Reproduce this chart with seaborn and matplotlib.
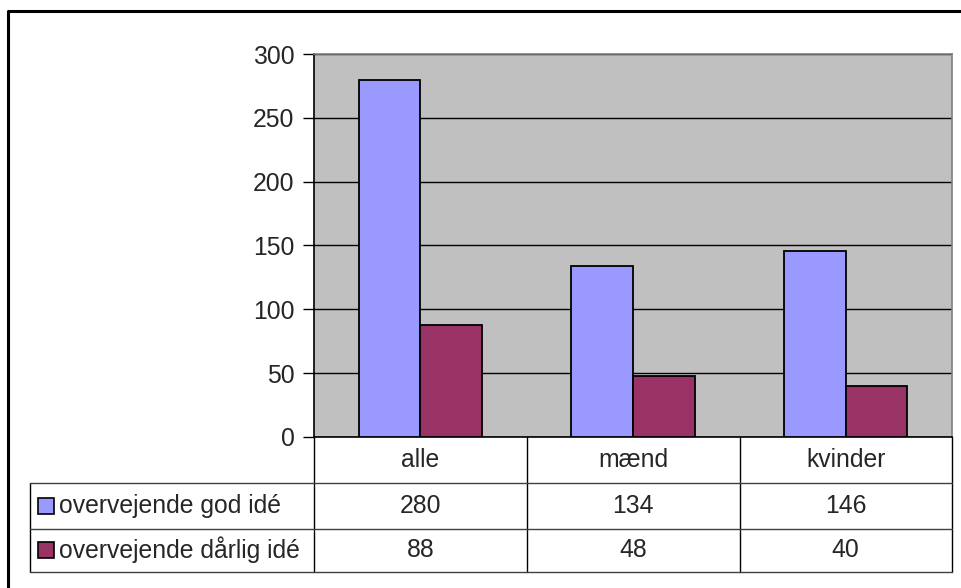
import numpy as np
import pandas as pd
import matplotlib
matplotlib.use("Agg")
import matplotlib.pyplot as plt
import matplotlib.transforms as mtransforms
from matplotlib.lines import Line2D
from matplotlib.patches import Rectangle
import seaborn as sns

categories = ["alle", "mænd", "kvinder"]
series_names = ["overvejende god idé", "overvejende dårlig idé"]
good_idea = [280, 134, 146]
bad_idea = [88, 48, 40]
colors = ["#9999FF", "#993366"]

W, H = 962, 588
FS = 17.8


def fx(px):
    return px / W


def fy(py):
    return 1 - py / H


df = pd.DataFrame({
    "category": categories * 2,
    "series": [series_names[0]] * 3 + [series_names[1]] * 3,
    "value": good_idea + bad_idea,
})

sns.set_style("white")
plt.rcParams["font.family"] = ["Liberation Sans", "DejaVu Sans"]

fig = plt.figure(figsize=(W / 100, H / 100), dpi=100)
ax = fig.add_axes([fx(314), fy(437), fx(952) - fx(314), fy(54) - fy(437)])
ax.set_facecolor("#C0C0C0")

sns.barplot(data=df, x="category", y="value", hue="series", palette=colors,
            width=0.58, edgecolor="black", linewidth=1.3, saturation=1,
            legend=False, ax=ax, zorder=3)

ax.set_ylim(0, 300)
ax.set_xlim(-0.5, 2.5)
ax.set_yticks(range(0, 301, 50))
ax.yaxis.grid(True, color="black", lw=1, zorder=1)
ax.set_axisbelow(True)
ax.tick_params(axis="y", length=8, width=1, color="black", labelsize=FS, pad=6, left=True)
ax.tick_params(axis="x", length=0, labelbottom=False)
ax.set_xlabel("")
ax.set_ylabel("")
for s in ["left", "bottom"]:
    ax.spines[s].set_color("black")
    ax.spines[s].set_linewidth(1.2)
for s in ["top", "right"]:
    ax.spines[s].set_color("#808080")
    ax.spines[s].set_linewidth(1.2)

# data table under the plot
trans = mtransforms.blended_transform_factory(ax.transData, fig.transFigure)
for i, cat in enumerate(categories):
    ax.text(i, fy(460), cat, transform=trans, ha="center", va="center", fontsize=FS)
    ax.text(i, fy(506), str(good_idea[i]), transform=trans, ha="center", va="center", fontsize=FS)
    ax.text(i, fy(550), str(bad_idea[i]), transform=trans, ha="center", va="center", fontsize=FS)

line_kw = dict(color="black", lw=1, transform=fig.transFigure)
for xp in [314, 527, 740, 952]:
    fig.add_artist(Line2D([fx(xp), fx(xp)], [fy(437), fy(572)], **line_kw))
fig.add_artist(Line2D([fx(30), fx(30)], [fy(483), fy(572)], **line_kw))
for yp in [483, 529, 572]:
    fig.add_artist(Line2D([fx(30), fx(952)], [fy(yp), fy(yp)], color="#404040", lw=1,
                          transform=fig.transFigure))

for yc, name, col in zip([506, 550], series_names, colors):
    fig.add_artist(Rectangle((fx(38), fy(yc + 8)), fx(16), fy(yc - 8) - fy(yc + 8),
                             facecolor=col, edgecolor="black", lw=1.2,
                             transform=fig.transFigure))
    fig.text(fx(59), fy(yc), name, ha="left", va="center", fontsize=FS)

# outer chart frame
fig.add_artist(Line2D([fx(8), fx(8), 1.0], [0.0, fy(11), fy(11)], color="black", lw=2.2,
                      transform=fig.transFigure))

fig.savefig("out.png", dpi=100)
